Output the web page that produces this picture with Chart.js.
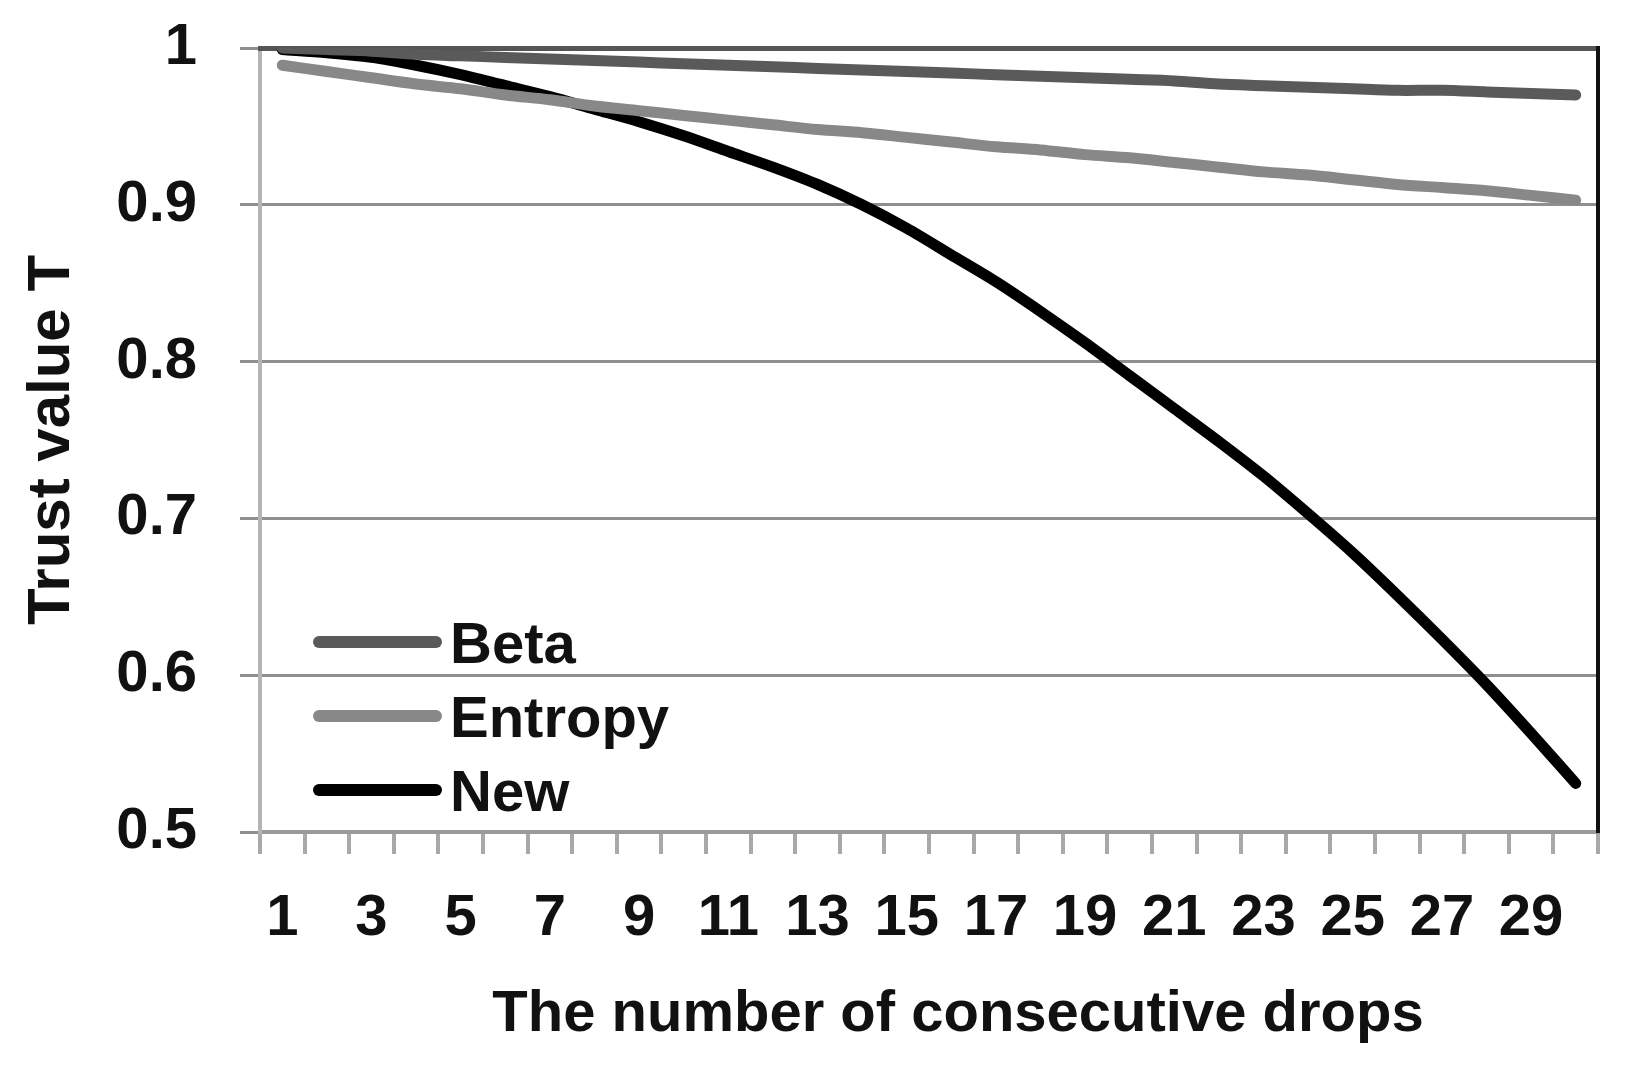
<!DOCTYPE html>
<html>
<head>
<meta charset="utf-8">
<script src="https://cdn.jsdelivr.net/npm/chart.js@4/dist/chart.umd.min.js"></script>
<style>
  html, body { margin: 0; padding: 0; background: #fff; }
  #wrap { position: relative; width: 1634px; height: 1065px; }
  #legend { position: absolute; left: 0; top: 0; }
  .legend-row {
    position: absolute; left: 313px; height: 70px; line-height: 70px;
    display: flex; align-items: center; white-space: nowrap;
    font: bold 58px "Liberation Sans", Arial, sans-serif; color: #111;
  }
  .legend-line { width: 129px; height: 12px; border-radius: 6px; margin-right: 8px; }
</style>
</head>
<body>
<div id="wrap">
  <canvas id="chart"></canvas>
  <div id="legend"></div>
</div>
<script>
const drops = ['1', '2', '3', '4', '5', '6', '7', '8', '9', '10', '11', '12', '13', '14', '15',
  '16', '17', '18', '19', '20', '21', '22', '23', '24', '25', '26', '27', '28', '29', '30'];
const betaValues = [1.000, 0.999, 0.998, 0.996, 0.995, 0.994, 0.993, 0.992, 0.991, 0.990,
  0.989, 0.988, 0.987, 0.986, 0.985, 0.984, 0.983, 0.982, 0.981, 0.980,
  0.979, 0.977, 0.976, 0.975, 0.974, 0.973, 0.973, 0.972, 0.971, 0.970];
const entropyValues = [0.989, 0.985, 0.981, 0.977, 0.974, 0.970, 0.967, 0.963, 0.960, 0.957,
  0.954, 0.951, 0.948, 0.946, 0.943, 0.940, 0.937, 0.935, 0.932, 0.930,
  0.927, 0.924, 0.921, 0.919, 0.916, 0.913, 0.911, 0.909, 0.906, 0.903];
const newValues = [0.999, 0.997, 0.994, 0.989, 0.983, 0.976, 0.969, 0.961, 0.953, 0.944,
  0.934, 0.924, 0.913, 0.900, 0.885, 0.868, 0.851, 0.832, 0.812, 0.791,
  0.770, 0.749, 0.727, 0.703, 0.678, 0.651, 0.623, 0.594, 0.563, 0.531];
const yTicks = [0.5, 0.6, 0.7, 0.8, 0.9, 1];

const FONT = '"Liberation Sans", Arial, sans-serif';

function series(label, data, color) {
  return {
    label,
    data,
    borderColor: color,
    backgroundColor: color,
    borderWidth: 11,
    borderCapStyle: 'round',
    borderJoinStyle: 'round',
    pointRadius: 0,
    tension: 0.3,
    fill: false,
  };
}

const chart = new Chart(document.getElementById('chart'), {
  type: 'line',
  data: {
    labels: drops,
    datasets: [
      series('Beta', betaValues, '#5a5a5a'),
      series('Entropy', entropyValues, '#888888'),
      series('New', newValues, '#000000'),
    ],
  },
  options: {
    responsive: true,
    maintainAspectRatio: false,
    animation: false,
    devicePixelRatio: 1,
    layout: { padding: { top: 48, right: 36, left: 0, bottom: 0 } },
    plugins: { legend: { display: false }, tooltip: { enabled: false } },
    scales: {
      x: {
        type: 'category',
        offset: true,
        afterFit: (scale) => { scale.height = 233; },
        grid: { offset: true, drawOnChartArea: false, drawTicks: true, tickLength: 22, color: '#a8a8a8', lineWidth: 4 },
        border: { color: '#9a9a9a', width: 4 },
        ticks: {
          autoSkip: false,
          maxRotation: 0,
          padding: 30,
          color: '#111',
          font: { family: FONT, size: 58, weight: 'bold' },
          callback: (value, index) => (index % 2 === 0 ? drops[index] : ''),
        },
        title: {
          display: true,
          text: '\u2003The number of consecutive drops',
          color: '#111',
          font: { family: FONT, size: 58, weight: 'bold' },
          padding: { top: 0, bottom: 15 },
        },
      },
      y: {
        min: 0.5,
        max: 1,
        afterFit: (scale) => {
          scale.width = 260;
          scale.paddingTop = 0;
          scale.paddingBottom = 0;
        },
        afterBuildTicks: (scale) => { scale.ticks = yTicks.map((v) => ({ value: v })); },
        grid: { color: '#8f8f8f', lineWidth: 3, tickLength: 20 },
        border: { color: '#b4b4b4', width: 4 },
        ticks: {
          padding: 43,
          color: '#111',
          font: { family: FONT, size: 58, weight: 'bold' },
          callback: (value) => String(+value.toFixed(1)),
        },
        title: {
          display: true,
          text: 'Trust value T',
          color: '#111',
          font: { family: FONT, size: 60, weight: 'bold' },
          padding: { top: 16, bottom: 0 },
        },
      },
      xTop: {
        type: 'linear',
        position: 'top',
        grid: { display: false, drawTicks: false },
        ticks: { display: false },
        border: { color: '#555555', width: 5 },
      },
      yRight: {
        type: 'linear',
        position: 'right',
        grid: { display: false, drawTicks: false },
        ticks: { display: false },
        border: { color: '#111111', width: 4 },
      },
    },
  },
});

function buildLegend() {
  const legend = document.getElementById('legend');
  const rowCenters = [642, 716, 790];
  legend.innerHTML = '';
  chart.data.datasets.forEach((ds, i) => {
    const row = document.createElement('div');
    row.className = 'legend-row';
    row.style.top = `${rowCenters[i] - 35}px`;
    row.innerHTML = `<span class="legend-line" style="background:${ds.borderColor}"></span><span>${ds.label}</span>`;
    legend.appendChild(row);
  });
}

buildLegend();
</script>
</body>
</html>
